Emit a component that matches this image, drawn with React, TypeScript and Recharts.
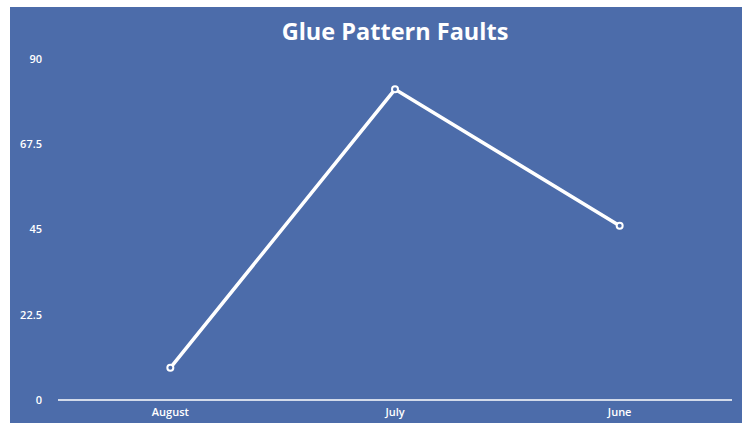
import React from "react";
import { LineChart, Line, XAxis, YAxis } from "recharts";

const months = ["August", "July", "June"];
const faults = [8.5, 82, 46];
const yTicks = [0, 22.5, 45, 67.5, 90];

const data = months.map((m, i) => ({ month: m, faults: faults[i] }));

const FONT = "'Open Sans', sans-serif";

export default function App() {
  return (
    <div style={{ position: "absolute", left: 0, top: 0, width: 744, height: 423, background: "#ffffff", overflow: "hidden" }}>
      <div style={{ position: "absolute", left: 10, top: 7, width: 732, height: 416, background: "#4c6caa" }} />
      <div
        style={{
          position: "absolute",
          left: 0,
          top: 14,
          width: 790,
          textAlign: "center",
          color: "#ffffff",
          fontFamily: FONT,
          fontWeight: 700,
          fontSize: 23.5,
          lineHeight: "34px",
        }}
      >
        Glue Pattern Faults
      </div>
      <div style={{ position: "absolute", left: 0, top: 0 }}>
        <LineChart width={744} height={423} data={data} margin={{ top: 59, right: 12, bottom: 0, left: 0 }}>
          <XAxis
            dataKey="month"
            scale="band"
            height={23}
            tickLine={false}
            axisLine={{ stroke: "#ffffff", strokeWidth: 1.5 }}
            tick={{ fill: "#ffffff", fontSize: 11, fontFamily: FONT, fontWeight: 600 }}
            interval={0}
          />
          <YAxis
            width={58}
            domain={[0, 90]}
            ticks={yTicks}
            axisLine={false}
            tickLine={false}
            tickMargin={10}
            tick={{ fill: "#ffffff", fontSize: 11, fontFamily: FONT, fontWeight: 600 }}
          />
          <Line
            type="linear"
            dataKey="faults"
            stroke="#ffffff"
            strokeWidth={3.5}
            dot={{ r: 3, fill: "#4c6caa", stroke: "#ffffff", strokeWidth: 2 }}
            isAnimationActive={false}
          />
        </LineChart>
      </div>
    </div>
  );
}
